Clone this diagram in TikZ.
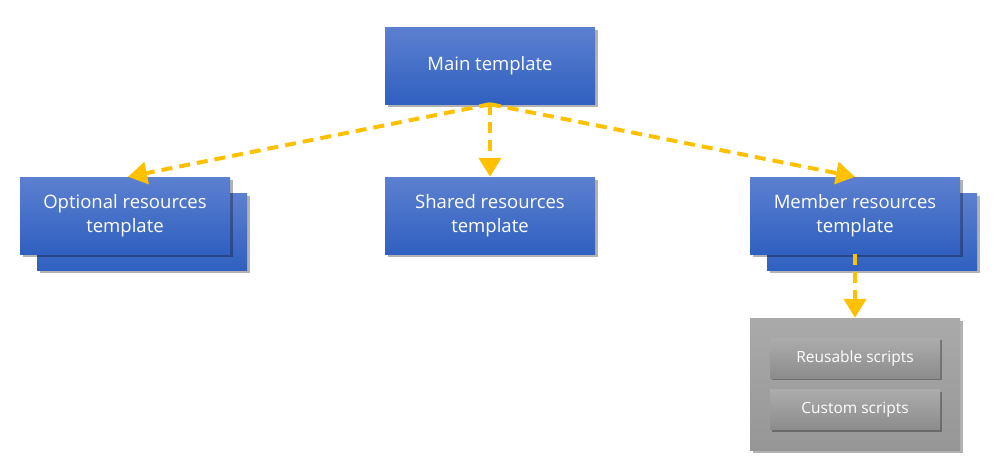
\documentclass[tikz,border=0pt]{standalone}
\usepackage{fontspec}
\setmainfont{Open Sans}
\usetikzlibrary{shadows,arrows.meta,calc}
\definecolor{btop}{RGB}{92,128,208}
\definecolor{bbot}{RGB}{48,96,192}
\definecolor{arr}{RGB}{255,192,0}
\definecolor{gtop}{RGB}{170,170,170}
\definecolor{gbot}{RGB}{150,150,150}
\definecolor{itop}{RGB}{172,172,172}
\definecolor{ibot}{RGB}{140,140,140}
\tikzset{
  bluebox/.style={rectangle, minimum width=210pt, minimum height=77pt, top color=btop, bottom color=bbot,
    draw=none, text=white, align=center, font=\fontsize{18.5}{24}\selectfont,
    drop shadow={shadow xshift=3pt, shadow yshift=-3pt, opacity=0.3, fill=black}},
  graybox/.style={rectangle, minimum width=210pt, minimum height=132pt, top color=gtop, bottom color=gbot,
    draw=none, drop shadow={shadow xshift=3pt, shadow yshift=-3pt, opacity=0.3, fill=black}},
  innerbox/.style={rectangle, minimum width=170pt, minimum height=40pt, top color=itop, bottom color=ibot,
    draw=none, text=white, font=\fontsize{15.5}{19}\selectfont,
    drop shadow={shadow xshift=2pt, shadow yshift=-2pt, opacity=0.3, fill=black}},
  conn/.style={draw=arr, line width=4pt, dash pattern=on 11pt off 7pt,
    -{Triangle[width=22pt,length=19pt]}, shorten >=0pt}
}
\begin{document}
\begin{tikzpicture}[x=1pt,y=-1pt]
\useasboundingbox (0,0) rectangle (1000,475);
\node[bluebox] (main) at (490,65.5) {Main template};
\node[bluebox] (optb) at (142,231.5) {};
\node[bluebox] (opt) at (125,215.5) {Optional resources\\template};
\node[bluebox] (shared) at (490,215.5) {Shared resources\\template};
\node[bluebox] (memb) at (872,231.5) {};
\node[bluebox] (mem) at (855,215.5) {Member resources\\template};
\node[graybox] (scripts) at (855,384) {};
\node[innerbox] (reuse) at (855,358) {Reusable scripts};
\node[innerbox] (custom) at (855,409.5) {Custom scripts};
\draw[conn] (main.south) -- ($(opt.north)+(3,0)$);
\draw[conn] (main.south) -- (shared.north);
\draw[conn] (main.south) -- (mem.north);
\draw[conn] (mem.south) -- (scripts.north);
\end{tikzpicture}
\end{document}
